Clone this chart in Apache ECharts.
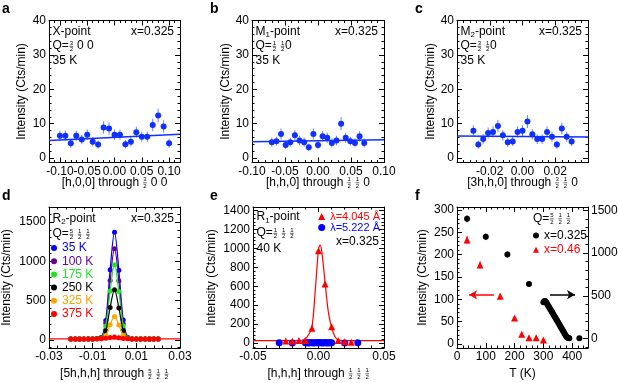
<!DOCTYPE html>
<html lang="en">
<head>
<meta charset="UTF-8">
<title>neutron scans</title>
<style>
  html, body { margin: 0; padding: 0; background: #fff; }
  #chart { width: 618px; height: 383px; }
</style>
</head>
<body>
<div id="chart"></div>
<script src="https://cdn.jsdelivr.net/npm/echarts@6/dist/echarts.min.js"></script>
<script>
// ---- data ----
// a: X-point scan
var xA = [-0.10,-0.09,-0.08,-0.07,-0.06,-0.05,-0.04,-0.03,-0.02,-0.01,0.00,0.01,0.02,0.03,0.04,0.05,0.06,0.07,0.08,0.09,0.10];
var yA = [6.5,6.5,4.3,6.5,5.4,6.8,4.7,3.9,8.9,8.6,6.8,6.8,4.0,4.7,7.5,6.2,6.2,9.6,12.4,9.2,4.3];
var eA = [1.5,1.5,1.3,1.5,1.4,1.5,1.3,1.2,1.8,1.8,1.5,1.5,1.2,1.3,1.6,1.5,1.5,1.8,2.0,1.8,1.3];
var fitAx = [-0.12, 0.12], fitAy = [5.1, 6.9];

// b: M1-point scan
var xB = [-0.070,-0.063,-0.056,-0.049,-0.042,-0.035,-0.028,-0.021,-0.014,-0.007,0.000,0.007,0.014,0.021,0.028,0.035,0.042,0.049,0.056,0.063,0.070];
var yB = [4.6,4.9,7.0,3.8,4.6,6.6,5.1,4.6,3.1,7.0,3.8,6.3,5.9,4.4,5.1,10.0,5.9,4.9,4.4,6.3,4.4];
var eB = [1.3,1.3,1.6,1.2,1.3,1.5,1.4,1.3,1.1,1.6,1.2,1.5,1.5,1.3,1.4,1.9,1.5,1.3,1.3,1.5,1.3];
var fitBx = [-0.10, 0.10], fitBy = [4.7, 5.3];

// c: M2-point scan
var xC = [-0.030,-0.027,-0.024,-0.021,-0.018,-0.015,-0.012,-0.009,-0.006,-0.003,0.000,0.003,0.006,0.009,0.012,0.015,0.018,0.021,0.024,0.027,0.030];
var yC = [7.9,3.9,5.5,7.3,7.6,9.3,6.6,4.6,4.8,7.6,7.9,10.6,6.9,5.5,5.5,7.6,6.2,3.9,8.6,6.2,4.8];
var eC = [1.6,1.2,1.4,1.6,1.6,1.8,1.5,1.3,1.3,1.6,1.6,1.9,1.5,1.4,1.4,1.6,1.5,1.2,1.7,1.5,1.3];
var fitCx = [-0.04, 0.04], fitCy = [6.4, 6.1];

// d: R2-point scans at several temperatures
var xD = [-0.020,-0.018,-0.016,-0.014,-0.012,-0.010,-0.008,-0.006,-0.004,-0.002,0.000,0.002,0.004,0.006,0.008,0.010,0.012,0.014,0.016,0.018,0.020];
var tempsD = ['35 K', '100 K', '175 K', '250 K', '325 K', '375 K'];
var colorsD = ['#0000ff', '#660099', '#1ee61e', '#000000', '#ffa500', '#ff0000'];
var y35  = [8,10,7,9,12,9,15,30,245,890,1368,885,250,32,12,9,8,10,7,9,8];
var y100 = [10,8,9,11,8,10,14,28,210,755,1160,750,205,26,11,9,10,8,9,10,8];
var y175 = [9,11,8,10,9,12,13,22,172,620,955,615,175,22,12,10,9,11,13,9,10];
var y250 = [8,9,10,8,11,9,12,18,115,410,636,405,118,17,10,9,11,8,10,9,8];
var y325 = [10,8,9,10,9,11,10,12,55,190,297,188,57,12,10,11,9,10,8,10,9];
var y375 = [9,10,8,11,9,10,12,14,18,28,35,27,17,12,10,11,9,10,8,11,9];
var fit375x = [-0.03, 0.03], fit375y = [10, 10];

// e: R1-point, two wavelengths
var xEr = [-0.025,-0.020,-0.015,-0.010,-0.005,0.000,0.005,0.010,0.015,0.020,0.025];
var yEr = [21,18,28,28,157,975,623,171,28,14,10];
var eEr = [5,5,6,6,13,32,25,13,6,4,4];
var fitEx = [-0.05,-0.02,-0.015,-0.0125,-0.01,-0.0075,-0.005,-0.0025,0.0,0.0012,0.0025,0.005,0.0075,0.01,0.0125,0.015,0.02,0.05];
var fitEy = [25,25,26,30,45,90,165,550,990,1035,970,640,330,165,70,35,26,25];
var xEb = [-0.03,-0.02,-0.010,-0.009,-0.008,-0.007,-0.006,-0.005,-0.004,-0.003,-0.002,-0.001,0.000,0.001,0.002,0.003,0.004,0.005,0.006,0.007,0.008,0.009,0.010,0.02,0.03];
var yEb = [3,2,4,3,2,3,4,3,2,3,4,3,5,3,4,2,3,4,3,2,3,4,3,2,3];

// f: temperature dependence
var tRed = [35,80,150,200,225,250,275,300];
var yRed = [233,177,107,58,22,14,14,9];
var eRed = [9,8,6,4,3,3,3,3];
var tBlk = [35,100,175,250,300,303,306,309,312,315,318,321,324,327,330,333,336,339,342,345,348,351,354,357,360,363,366,369,372,375,378,381,384,387,390,425];
var yBlk = [1400,1190,984,640,425,438,440,430,413,395,378,362,345,330,312,295,278,260,244,226,210,192,175,158,140,122,105,88,70,52,35,20,12,8,7,6];
var eBlk = [40,38,35,30,12,12,12,12,12,11,11,11,11,11,10,10,10,10,10,10,9,9,9,9,9,8,8,8,8,7,7,7,6,6,6,6];

// ---- helpers ----
var FF = "'Liberation Sans', Arial, Helvetica, sans-serif";
var mctx = document.createElement('canvas').getContext('2d');
function tw(s, fs, bold) {
    mctx.font = (bold ? 'bold ' : '') + fs + 'px ' + FF;
    return mctx.measureText(s).width;
}
function txt(s, x, y, fs, color, align, bold) {
    return {
        type: 'text', x: x, y: y, silent: true, z: 100,
        style: {
            text: s, font: (bold ? 'bold ' : '') + fs + 'px ' + FF, fill: color || '#000',
            textAlign: align || 'left', textVerticalAlign: 'middle',
            align: align || 'left', verticalAlign: 'middle'
        }
    };
}
function fr(n, d) { return {f: [n, d]}; }
function sub(s) { return {sub: s}; }
// a line of text with subscripts and stacked fractions
function rich(parts, x, y, align, color, fs) {
    fs = fs || 12; color = color || '#000';
    var ffs = 6, sfs = 8;
    var items = parts.map(function (p) {
        if (typeof p === 'string') return {k: 't', s: p, w: tw(p, fs)};
        if (p.sub) return {k: 's', s: p.sub, w: tw(p.sub, sfs)};
        return {k: 'f', n: p.f[0], d: p.f[1], w: Math.max(tw(p.f[0], ffs), tw(p.f[1], ffs)) + 1.6};
    });
    var W = items.reduce(function (a, b) { return a + b.w; }, 0);
    var cx = align === 'right' ? x - W : (align === 'center' ? x - W / 2 : x);
    var out = [];
    items.forEach(function (it) {
        if (it.k === 't') out.push(txt(it.s, cx, y, fs, color));
        else if (it.k === 's') out.push(txt(it.s, cx, y + 3.5, sfs, color));
        else {
            var mid = cx + it.w / 2;
            out.push(txt(it.n, mid, y - 3, ffs, color, 'center'));
            out.push(txt(it.d, mid, y + 3.6, ffs, color, 'center'));
            out.push({type: 'line', silent: true, z: 100,
                shape: {x1: cx + 0.6, y1: y + 0.3, x2: cx + it.w - 0.6, y2: y + 0.3},
                style: {stroke: color, lineWidth: 0.6}});
        }
        cx += it.w;
    });
    return out;
}
function pts(xs, ys) { return xs.map(function (x, i) { return [x, ys[i]]; }); }

var grids = [
    {left: 49,  top: 20.5, width: 131, height: 142},
    {left: 252, top: 20.5, width: 132, height: 142},
    {left: 457, top: 20.5, width: 131, height: 142},
    {left: 49,  top: 207,  width: 131, height: 141},
    {left: 253, top: 207,  width: 131, height: 141},
    {left: 457, top: 207,  width: 131, height: 141}
];
grids.forEach(function (g) { g.outerBoundsMode = 'none'; g.containLabel = false; });

function axis(g, o, pos, labels) {
    var a = {
        type: 'value', gridIndex: g, position: pos, scale: true,
        min: o.min, max: o.max,
        axisLine: {show: true, onZero: false, lineStyle: {color: '#000', width: 1}},
        axisTick: {show: true, inside: true, length: 5, lineStyle: {color: '#000', width: 1}},
        minorTick: {show: true, splitNumber: o.minor || 5, length: 2.5, lineStyle: {color: '#000', width: 1}},
        axisLabel: {
            show: labels, margin: 3, color: '#000', fontSize: 12, fontFamily: FF,
            hideOverlap: false,
            showMinLabel: o.showMin, showMaxLabel: o.showMax,
            formatter: o.fmt || function (v) { return String(v); }
        },
        splitLine: {show: false}, splitArea: {show: false}
    };
    if (o.interval != null) a.interval = o.interval;
    if (o.split != null) a.splitNumber = o.split;
    if (o.name) {
        a.name = o.name; a.nameLocation = 'middle'; a.nameRotate = 90; a.nameGap = o.gap;
        a.nameTextStyle = {fontSize: 12, fontFamily: FF, color: '#000'};
    }
    return a;
}
function f2(v) { return v.toFixed(2); }

var xOpts = [
    {min: -0.12, max: 0.12, split: 5, fmt: f2, showMin: false, showMax: false},
    {min: -0.10, max: 0.10, interval: 0.05, fmt: f2, showMin: true, showMax: true},
    {min: -0.04, max: 0.04, interval: 0.02, fmt: f2, showMin: false, showMax: false},
    {min: -0.03, max: 0.03, interval: 0.02, fmt: f2, showMin: true, showMax: true},
    {min: -0.05, max: 0.05, interval: 0.05, fmt: f2, showMin: true, showMax: true},
    {min: 0, max: 455, interval: 100, showMin: true, showMax: false}
];
var YN = 'Intensity (Cts/min)';
var yOpts = [
    {min: -1.3, max: 40, split: 5, showMin: false, showMax: true, name: YN, gap: 21},
    {min: -1.3, max: 40, split: 5, showMin: false, showMax: true, name: YN, gap: 19.5},
    {min: -1.3, max: 40, split: 5, showMin: false, showMax: true, name: YN, gap: 19.5},
    {min: -105, max: 1690, split: 3, showMin: false, showMax: false, name: YN, gap: 36},
    {min: -52, max: 1436, split: 7, showMin: false, showMax: false, name: YN, gap: 35},
    {min: -9, max: 306.6, split: 6, showMin: false, showMax: false, name: YN, gap: 28}
];
var yRightF = {min: -108, max: 1538, split: 3, showMin: false, showMax: false};

var xAxes = [], yAxes = [];
for (var g = 0; g < 6; g++) {
    xAxes.push(axis(g, xOpts[g], 'bottom', true));
    xAxes.push(axis(g, xOpts[g], 'top', false));
    yAxes.push(axis(g, yOpts[g], 'left', true));
    if (g === 5) yAxes.push(axis(g, yRightF, 'right', true));
    else {
        var m = Object.assign({}, yOpts[g]); delete m.name;
        yAxes.push(axis(g, m, 'right', false));
    }
}

function errSeries(g, xs, ys, es, color, yIdx) {
    return {
        type: 'custom', xAxisIndex: 2 * g, yAxisIndex: yIdx == null ? 2 * g : yIdx, silent: true, z: 2,
        data: xs.map(function (x, i) { return [x, ys[i] - es[i], ys[i] + es[i]]; }),
        encode: {x: 0, y: [1, 2]},
        renderItem: function (p, api) {
            var a = api.coord([api.value(0), api.value(1)]);
            var b = api.coord([api.value(0), api.value(2)]);
            return {type: 'line', shape: {x1: a[0], y1: a[1], x2: b[0], y2: b[1]},
                style: {stroke: color, lineWidth: 1}};
        }
    };
}
function scatter(g, name, xs, ys, color, sym, size, yIdx) {
    return {type: 'scatter', name: name, xAxisIndex: 2 * g, yAxisIndex: yIdx == null ? 2 * g : yIdx,
        data: pts(xs, ys), symbol: sym || 'circle', symbolSize: size || 6,
        itemStyle: {color: color, opacity: 1}, z: 4};
}
function line(g, xs, ys, color, width, smooth) {
    return {type: 'line', xAxisIndex: 2 * g, yAxisIndex: 2 * g, data: pts(xs, ys), symbol: 'none',
        smooth: smooth || false, lineStyle: {color: color, width: width || 1.5}, silent: true, z: 3};
}

var BLUE = '#1030ff', EBLUE = '#6a80ff';
var series = [
    errSeries(0, xA, yA, eA, EBLUE), line(0, fitAx, fitAy, BLUE), scatter(0, 'a', xA, yA, BLUE),
    errSeries(1, xB, yB, eB, EBLUE), line(1, fitBx, fitBy, BLUE), scatter(1, 'b', xB, yB, BLUE),
    errSeries(2, xC, yC, eC, EBLUE), line(2, fitCx, fitCy, BLUE), scatter(2, 'c', xC, yC, BLUE)
];
var dSets = [y35, y100, y175, y250, y325, y375];
dSets.forEach(function (ys, i) {
    series.push({type: 'line', name: tempsD[i], xAxisIndex: 6, yAxisIndex: 6, data: pts(xD, ys),
        smooth: 0.35, symbol: 'circle', symbolSize: 5, showSymbol: true,
        lineStyle: {color: colorsD[i], width: 1.2}, itemStyle: {color: colorsD[i]}, z: 3 + i * 0.1});
});
series.push(line(3, fit375x, fit375y, '#ff0000', 1.2));

series.push(line(4, fitEx, fitEy, '#ff0000', 1.2, 0.3));
series.push(errSeries(4, xEr, yEr, eEr, '#ff0000'));
series.push(scatter(4, 'λ=5.222 Å', xEb, yEb, '#0000ff', 'circle', 7));
series.push(scatter(4, 'λ=4.045 Å', xEr, yEr, '#ff0000', 'triangle', 7));

series.push(errSeries(5, tRed, yRed, eRed, '#ff0000', 10));
series.push(errSeries(5, tBlk, yBlk, eBlk, '#000000', 11));
var redF = scatter(5, 'x=0.46', tRed, yRed, '#ff0000', 'triangle', 7, 10);
redF.markLine = {silent: true, symbol: ['none', 'arrow'], symbolSize: [7, 8], label: {show: false},
    lineStyle: {color: '#ff0000', width: 1.5, type: 'solid'},
    data: [[{coord: [128, 110]}, {coord: [42, 110]}]]};
var blkF = scatter(5, 'x=0.325', tBlk, yBlk, '#000000', 'circle', 6, 11);
blkF.markLine = {silent: true, symbol: ['none', 'arrow'], symbolSize: [7, 8], label: {show: false},
    lineStyle: {color: '#000000', width: 1.5, type: 'solid'},
    data: [[{coord: [323, 515]}, {coord: [410, 515]}]]};
series.push(redF, blkF);

// ---- annotations ----
var gfx = [];
function add(arr) { gfx = gfx.concat(arr); }
add([txt('a', 2, 9.5, 14, '#000', 'left', true), txt('b', 210, 9.5, 14, '#000', 'left', true),
     txt('c', 415, 9.5, 14, '#000', 'left', true), txt('d', 2, 196, 14, '#000', 'left', true),
     txt('e', 210, 196, 14, '#000', 'left', true), txt('f', 415, 196, 14, '#000', 'left', true)]);
// a
add(rich(['X-point'], 52.5, 31.5)); add(rich(['Q=', fr('3', '2'), ' 0 0'], 52.5, 46));
add(rich(['35 K'], 52.5, 60.5)); add(rich(['x=0.325'], 174, 31.5, 'right'));
add(rich(['[h,0,0] through ', fr('3', '2'), ' 0 0'], 114.5, 182.5, 'center'));
// b
add(rich(['M', sub('1'), '-point'], 255.5, 31.5)); add(rich(['Q=', fr('1', '2'), ' ', fr('1', '2'), '0'], 255.5, 46));
add(rich(['35 K'], 255.5, 60.5)); add(rich(['x=0.325'], 378, 31.5, 'right'));
add(rich(['[h,h,0] through ', fr('1', '2'), ' ', fr('1', '2'), ' 0'], 318, 182.5, 'center'));
// c
add(rich(['M', sub('2'), '-point'], 460.5, 31.5)); add(rich(['Q=', fr('3', '2'), ' ', fr('1', '2'), '0'], 460.5, 46));
add(rich(['35 K'], 460.5, 60.5)); add(rich(['x=0.325'], 582, 31.5, 'right'));
add(rich(['[3h,h,0] through ', fr('3', '2'), ' ', fr('1', '2'), ' 0'], 522.5, 182.5, 'center'));
// d
add(rich(['R', sub('2'), '-point'], 52.5, 218.5)); add(rich(['Q=', fr('5', '2'), ' ', fr('1', '2'), ' ', fr('1', '2')], 52.5, 234));
add(rich(['x=0.325'], 174, 218.5, 'right'));
add(rich(['[5h,h,h] through ', fr('5', '2'), ' ', fr('1', '2'), ' ', fr('1', '2')], 114.5, 374, 'center'));
// e
add(rich(['R', sub('1'), '-point'], 256.5, 217)); add(rich(['Q=', fr('1', '2'), ' ', fr('1', '2'), ' ', fr('1', '2')], 256.5, 233));
add(rich(['40 K'], 256.5, 249)); add(rich(['x=0.325'], 379, 241.5, 'right'));
add(rich(['[h,h,h] through ', fr('1', '2'), ' ', fr('1', '2'), ' ', fr('1', '2')], 318.5, 373.5, 'center'));
// f
add(rich(['Q=', fr('5', '2'), ' ', fr('1', '2'), ' ', fr('1', '2')], 533, 218.5));
add(rich(['T (K)'], 522.5, 373.5, 'center'));

var option = {
    animation: false,
    backgroundColor: '#ffffff',
    textStyle: {fontFamily: FF, color: '#000'},
    grid: grids,
    xAxis: xAxes,
    yAxis: yAxes,
    legend: [
        {orient: 'vertical', left: 51, top: 242, padding: 0, itemGap: 1.2, itemWidth: 6, itemHeight: 6,
         icon: 'circle', selectedMode: false,
         textStyle: {fontSize: 12, fontFamily: FF, lineHeight: 12, padding: [0, 0, 0, 0]},
         data: tempsD.map(function (t, i) { return {name: t, textStyle: {color: colorsD[i]}}; })},
        {orient: 'vertical', right: 238, top: 211, padding: 0, itemGap: 0, itemWidth: 7, itemHeight: 7,
         selectedMode: false, textStyle: {fontSize: 11, fontFamily: FF, lineHeight: 10},
         data: [{name: 'λ=4.045 Å', icon: 'triangle', textStyle: {color: '#ff0000'}},
                {name: 'λ=5.222 Å', icon: 'circle', textStyle: {color: '#0000ff'}}]},
        {orient: 'vertical', left: 533, top: 229.5, padding: 0, itemGap: 2.3, itemWidth: 6, itemHeight: 6,
         selectedMode: false, textStyle: {fontSize: 12, fontFamily: FF, lineHeight: 12},
         data: [{name: 'x=0.325', icon: 'circle', textStyle: {color: '#000000'}},
                {name: 'x=0.46', icon: 'triangle', textStyle: {color: '#ff0000'}}]}
    ],
    graphic: {elements: gfx},
    series: series
};

var chart = echarts.init(document.getElementById('chart'), null, {renderer: 'canvas'});
chart.setOption(option);
</script>
</body>
</html>
